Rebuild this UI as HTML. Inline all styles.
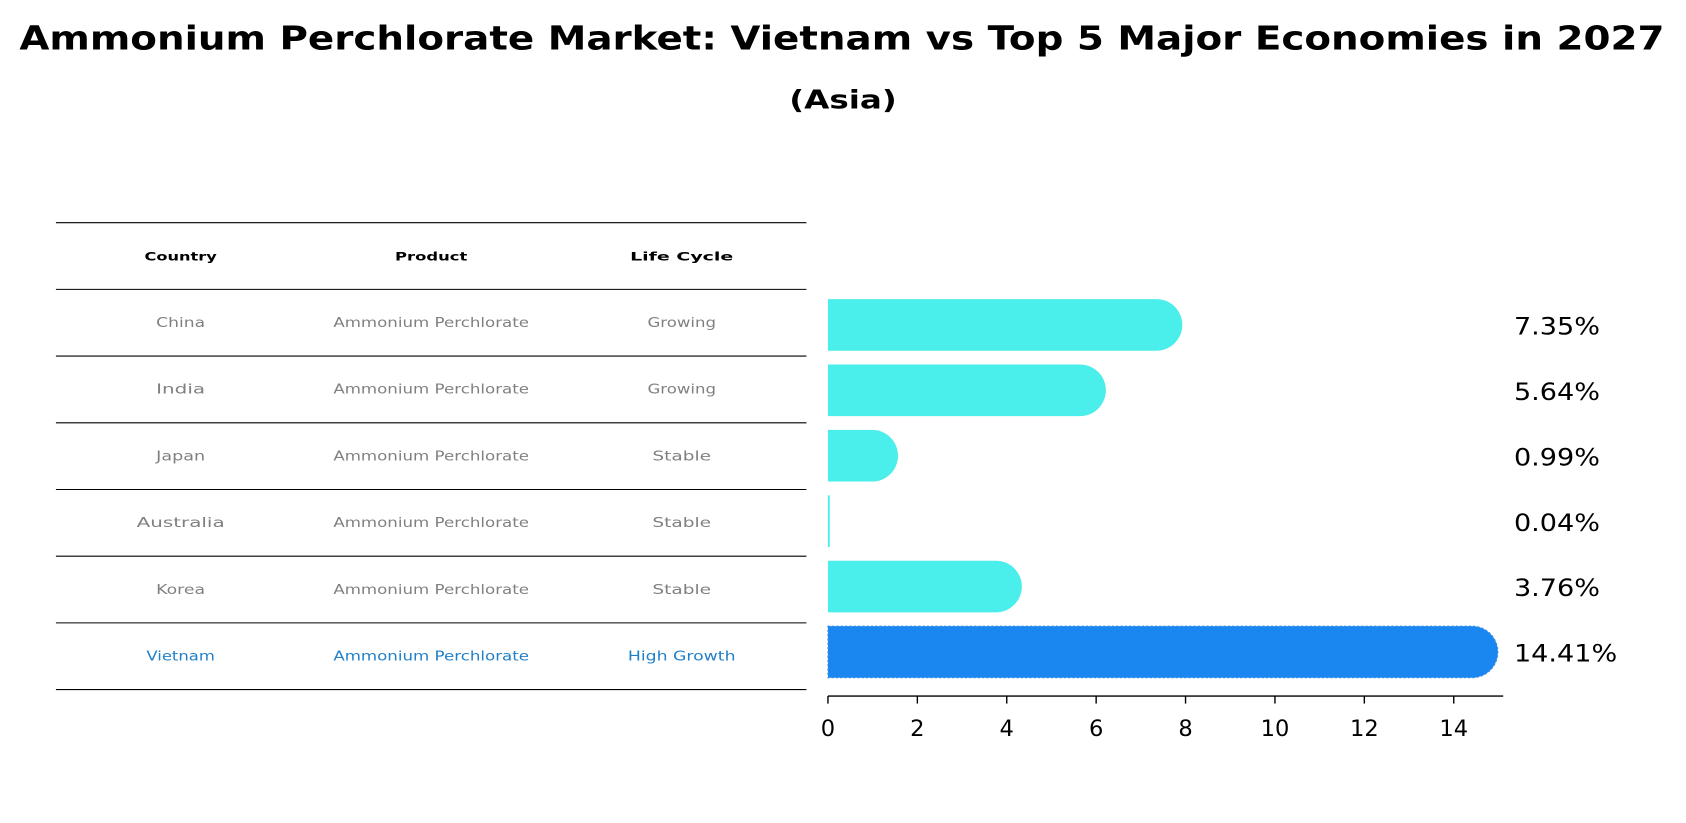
<!DOCTYPE html>
<html><head><meta charset="utf-8"><style>
html,body{margin:0;padding:0;background:#fff;}
svg{display:block;font-family:"DejaVu Sans","Liberation Sans",sans-serif;}
</style></head><body>
<svg id="chart" width="1686" height="823" viewBox="0 0 1568 765" preserveAspectRatio="none" xmlns="http://www.w3.org/2000/svg">
<text x="18" y="46" font-size="31" font-weight="bold" textLength="1530" lengthAdjust="spacingAndGlyphs">Ammonium Perchlorate Market: Vietnam vs Top 5 Major Economies in 2027</text>
<text x="734" y="101" font-size="24" font-weight="bold" textLength="100" lengthAdjust="spacingAndGlyphs">(Asia)</text>
<g id="table"></g>
<g id="bars"></g>
</svg>
<script>
const countries = ["China","India","Japan","Australia","Korea","Vietnam"];
const products = ["Ammonium Perchlorate","Ammonium Perchlorate","Ammonium Perchlorate","Ammonium Perchlorate","Ammonium Perchlorate","Ammonium Perchlorate"];
const lifeCycles = ["Growing","Growing","Stable","Stable","Stable","High Growth"];
const growthValues = [7.35,5.64,0.99,0.04,3.76,14.41];
const xTicks = [0,2,4,6,8,10,12,14];
const NS="http://www.w3.org/2000/svg";
function mk(tag,attrs,parent){const e=document.createElementNS(NS,tag);for(const k in attrs)e.setAttribute(k,attrs[k]);parent.appendChild(e);return e;}
const table=document.getElementById('table');
const bars=document.getElementById('bars');
const rowTop=207, rowH=62, tx0=52, tx1=750, colX=[168,401,634];
const x0=770, xUnit=(1352-770)/14, xAxisEnd=1398;
const xs=v=>x0+v*xUnit;
const barTop=302, barStep=60.8;
function fitLen(t,txt,k){t.setAttribute('textLength',(txt.length*k).toFixed(1));t.setAttribute('lengthAdjust','spacingAndGlyphs');}
["Country","Product","Life Cycle"].forEach((h,i)=>{
  const t=mk('text',{x:colX[i],y:rowTop+rowH/2+4,'text-anchor':'middle','font-size':'11','font-weight':'bold'},table);
  t.textContent=h;
  fitLen(t,h,9.6);
  
  
});
for(let i=0;i<=countries.length+1;i++){
  const l=mk('line',{x1:tx0,x2:tx1,y1:rowTop+i*rowH,y2:rowTop+i*rowH,stroke:'#000','stroke-width':'1'},table);
  
  
}
countries.forEach((c,i)=>{
  const cy=rowTop+(i+1)*rowH+rowH/2+4;
  const col=c==="Vietnam"?"#1f7fc8":"#808080";
  [c,products[i],lifeCycles[i]].forEach((v,j)=>{
    const t=mk('text',{x:colX[j],y:cy,'text-anchor':'middle','font-size':'12.5',fill:col},table);
    t.textContent=v;
    fitLen(t,v,9.1);
    
    
  });
  const bc=barTop+i*barStep, h=48, r=h/2;
  const fill=c==="Vietnam"?"#1a86f0":"#4aeeea";
  const xe=xs(growthValues[i]);
  let d;
  if(growthValues[i]<0.5){ d=`M${x0},${bc-r}H${Math.max(xe,x0+1.7)}V${bc+r}H${x0}Z`; }
  else { d=`M${x0},${bc-r}H${xe}A${r},${r} 0 0 1 ${xe},${bc+r}H${x0}Z`; }
  const p=mk('path',{d:d,fill:fill},bars);
  if(c==="Vietnam"){p.setAttribute('stroke','#3d8fe0');p.setAttribute('stroke-dasharray','2,2');p.setAttribute('stroke-width','1');}
  
  
  const label=growthValues[i].toFixed(2)+'%';
  const lt=mk('text',{x:1408,y:bc+9,'font-size':'22'},bars);
  lt.textContent=label;
  fitLen(lt,label,16);
  
  
});
const ay=647;
const ax=mk('line',{x1:x0,x2:xAxisEnd,y1:ay,y2:ay,stroke:'#000','stroke-width':'1.3'},bars);


xTicks.forEach(t=>{
  const tl=mk('line',{x1:xs(t),x2:xs(t),y1:ay,y2:ay+7,stroke:'#000','stroke-width':'1.3'},bars);
  
  
  const tt=mk('text',{x:xs(t),y:ay+37,'text-anchor':'middle','font-size':'21'},bars);
  tt.textContent=t;
  
  
});
</script>
</body></html>
